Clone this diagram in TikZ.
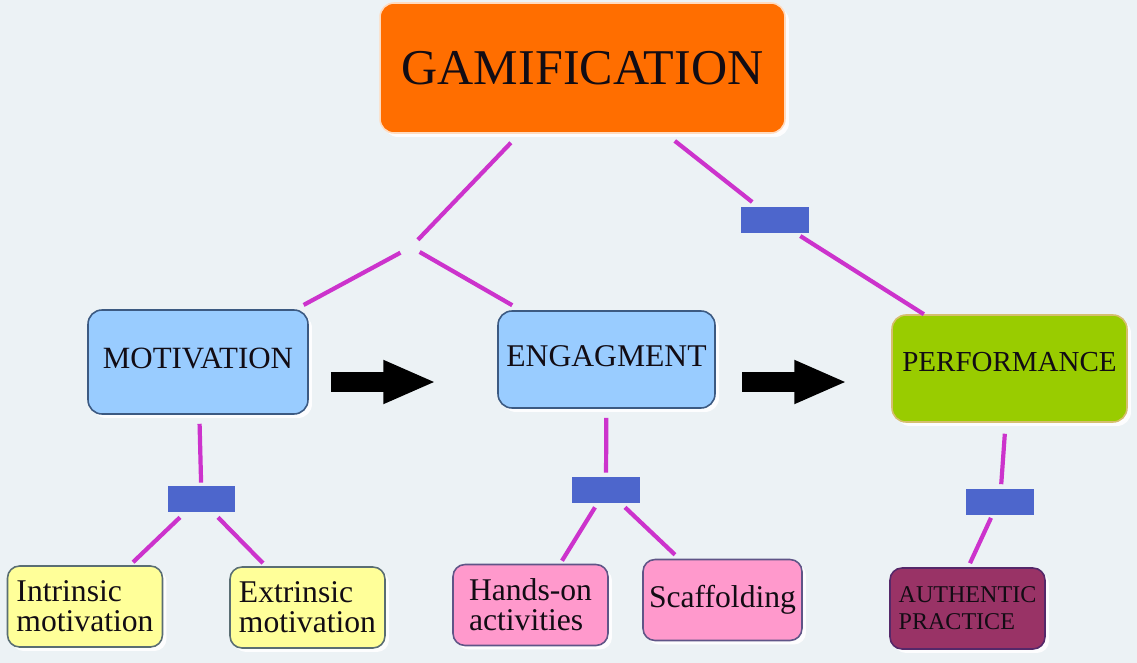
\documentclass[tikz,border=0pt]{standalone}
\usepackage{fontspec}
\setmainfont{Liberation Serif}
\usetikzlibrary{arrows.meta,calc,shadows}

\definecolor{bgcol}{RGB}{236,242,245}
\definecolor{gamcol}{RGB}{255,110,0}
\definecolor{topcol}{RGB}{153,204,255}
\definecolor{topline}{RGB}{60,90,130}
\definecolor{perfcol}{RGB}{153,204,0}
\definecolor{perfline}{RGB}{214,190,110}
\definecolor{motcol}{RGB}{255,255,153}
\definecolor{motline}{RGB}{90,110,115}
\definecolor{engcol}{RGB}{255,153,204}
\definecolor{engline}{RGB}{95,85,135}
\definecolor{authcol}{RGB}{153,51,102}
\definecolor{authline}{RGB}{85,40,105}
\definecolor{linkcol}{RGB}{204,51,204}
\definecolor{jointcol}{RGB}{77,102,204}
\definecolor{txtcol}{RGB}{18,12,20}

\begin{document}
\begin{tikzpicture}[x=0.02cm,y=-0.02cm,
    box/.style={rectangle,rounded corners=0.28cm,draw,line width=0.9pt,inner sep=0.12cm,text=txtcol,
      drop shadow={fill=white,opacity=0.9,shadow xshift=0.08cm,shadow yshift=-0.08cm}},
    topbox/.style={box,fill=topcol,draw=topline},
    leaf/.style={box,rounded corners=0.24cm,align=left,minimum width=3.1cm,minimum height=1.62cm,
      font=\fontsize{18}{17}\selectfont},
    joint/.style={rectangle,fill=jointcol,minimum width=1.36cm,minimum height=0.52cm,inner sep=0pt},
    link/.style={draw=linkcol,line width=2.4pt},
    flow/.style={draw=black,line width=0.4cm,-{Triangle[length=1.06cm,width=0.8cm]}}]

  \useasboundingbox[fill=bgcol] (0,0) rectangle (1137,663);

  % main boxes
  \node[box,fill=gamcol,draw=white!75!gamcol,minimum width=8.1cm,minimum height=2.6cm,
    font=\fontsize{28.5}{30}\selectfont] (gam) at (582.5,68) {GAMIFICATION};
  \node[topbox,minimum width=4.4cm,minimum height=2.08cm,text depth=0.45em,
    font=\fontsize{17.6}{19}\selectfont] (mot) at (198,362) {MOTIVATION};
  \node[topbox,minimum width=4.34cm,minimum height=1.94cm,text depth=0.45em,
    font=\fontsize{18}{19}\selectfont] (eng) at (606.5,359.5) {ENGAGMENT};
  \node[box,fill=perfcol,draw=perfline,minimum width=4.7cm,minimum height=2.14cm,text depth=0.8em,
    font=\fontsize{16.5}{18}\selectfont] (perf) at (1009.5,368.5) {PERFORMANCE};

  % joints
  \coordinate (j) at (411,247);
  \node[joint] (r0) at (775,220) {};
  \node[joint] (r1) at (201.5,499) {};
  \node[joint] (r2) at (606,490) {};
  \node[joint] (r3) at (1000,501.5) {};

  % leaves
  \node[leaf,fill=motcol,draw=motline] (intr) at (85,606.5) {Intrinsic\\motivation};
  \node[leaf,fill=motcol,draw=motline] (extr) at (307.5,607.5) {Extrinsic\\motivation};
  \node[leaf,fill=engcol,draw=engline] (hands) at (530.5,605) {Hands-on\\activities};
  \node[leaf,fill=engcol,draw=engline] (scaff) at (722.5,600) {Scaffolding};
  \node[leaf,fill=authcol,draw=authline,font=\fontsize{13.7}{15.5}\selectfont] (auth) at (967.5,608.5)
    {AUTHENTIC\\PRACTICE};

  % links
  \draw[link,shorten <=0.25cm,shorten >=0.2cm] (gam) -- (j);
  \draw[link,shorten <=0.24cm,shorten >=0.18cm] (j) -- (mot);
  \draw[link,shorten <=0.2cm,shorten >=0.2cm] (j) -- (eng);
  \draw[link,shorten <=0.23cm,shorten >=0.15cm] (gam) -- (r0);
  \draw[link,shorten <=0.1cm] (r0) -- (perf);
  \draw[link,shorten <=0.18cm,shorten >=0.06cm] (mot) -- (r1);
  \draw[link,shorten <=0.18cm,shorten >=0.08cm] (eng) -- (r2);
  \draw[link,shorten <=0.22cm,shorten >=0.08cm] (perf) -- (r3);
  \draw[link] ($(r1.south)+(-21.5,5)$) -- ($(intr.north)+(48,-3)$);
  \draw[link] ($(r1.south)+(16.5,5)$) -- ($(extr.north)+(-44.5,-3)$);
  \draw[link] ($(r2.south)+(-11,4)$) -- ($(hands.north)+(31.5,-3)$);
  \draw[link] ($(r2.south)+(19,4)$) -- ($(scaff.north)+(-47.5,-4)$);
  \draw[link] ($(r3.south)+(-9,3)$) -- ($(auth.north)+(2.5,-4)$);

  % flow arrows
  \draw[flow,shorten <=0.44cm,shorten >=1.22cm] ($(mot.east)+(0,20)$) -- ($(mot.east -| eng.west)+(0,20)$);
  \draw[flow,shorten <=0.53cm,shorten >=0.88cm] ($(eng.east)+(0,22.5)$) -- ($(eng.east -| perf.west)+(0,22.5)$);

\end{tikzpicture}
\end{document}
